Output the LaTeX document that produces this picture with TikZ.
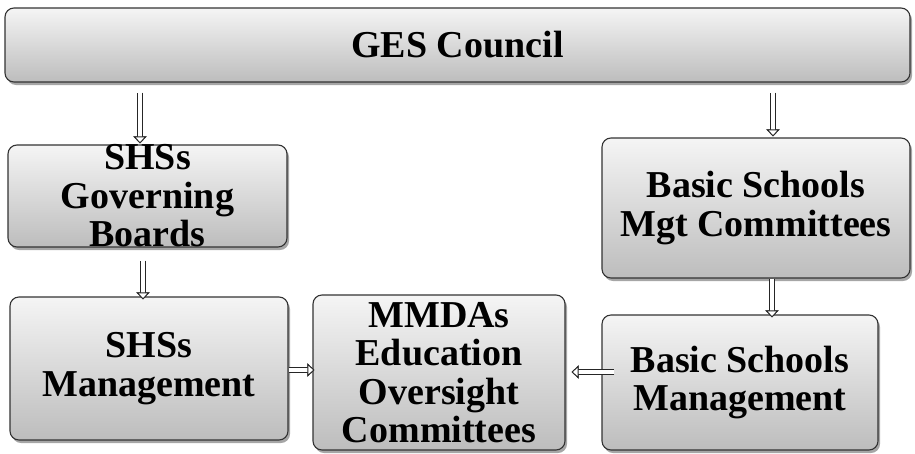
\documentclass[tikz,border=0pt]{standalone}
\usepackage{fontspec}
\setmainfont{Liberation Serif}
\usetikzlibrary{calc,shadows,arrows.meta}

\tikzset{
  box/.style={draw=black!80, line width=1.1pt, rounded corners=9pt,
    top color=black!4, bottom color=black!26, inner sep=0pt,
    drop shadow={shadow xshift=2pt, shadow yshift=-3pt, opacity=0.35, fill=black}},
  txt/.style={font=\fontsize{38}{38.5}\selectfont\bfseries, align=center, inner sep=0pt},
  % hollow block arrow: dark outer stroke, white core, outlined head
  headtip/.style={-{Triangle[color=black!85, fill=white, line width=0.9pt,
    length=7pt, width=13pt]}},
  flow/.style={
    preaction={draw=black!85, line width=6.4pt, headtip},
    draw=white, line width=4.6pt, headtip}
}

\begin{document}
\begin{tikzpicture}[x=1pt,y=-1pt]
\useasboundingbox[fill=white] (0,0) rectangle (915,453);

% governing bodies
\node[box, minimum width=905pt, minimum height=74pt,
  label={[txt]center:GES Council}] (ges) at (457.5,45) {};
\node[box, minimum width=279pt, minimum height=102pt,
  label={[txt]center:SHSs\\Governing\\Boards}] (gb) at (147.5,196) {};
\node[box, minimum width=308pt, minimum height=140pt,
  label={[txt]center:Basic Schools\\Mgt Committees}] (bsmc) at (756,208) {};

% management and oversight
\node[box, minimum width=278pt, minimum height=143pt,
  label={[txt]center:SHSs\\Management}] (sm) at (149,368.5) {};
\node[box, minimum width=252pt, minimum height=155pt,
  label={[txt]center:MMDAs\\Education\\Oversight\\Committees}] (mm) at (439,372.5) {};
\node[box, minimum width=276pt, minimum height=135pt,
  label={[txt]center:Basic Schools\\Management}] (bsm) at (740,382.5) {};

% reporting lines
\draw[flow] ($(gb.north |- ges.south)+(-7.5,10)$) -- ($(gb.north)+(-7.5,-1)$);
\draw[flow] ($(bsmc.north |- ges.south)+(17,10)$) -- ($(bsmc.north)+(17,-1)$);
\draw[flow] ($(gb.south)+(-4.5,13)$) -- ($(sm.north -| gb.south)+(-4.5,3)$);
\draw[flow] ($(bsmc.south)+(16,0)$) -- ($(bsm.north -| bsmc.south)+(16,3)$);
\draw[flow] ($(sm.east)+(0,1.5)$) -- ($(mm.west |- sm.east)+(2,1.5)$);
\draw[flow] ($(bsm.west)+(13,-10.5)$) -- ($(mm.east |- bsm.west)+(6,-10.5)$);
\end{tikzpicture}
\end{document}
